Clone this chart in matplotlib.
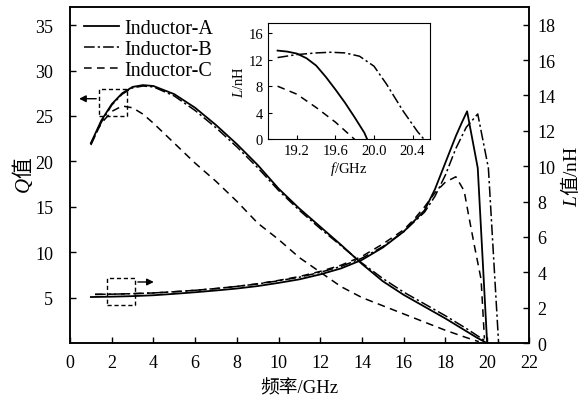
import numpy as np
import matplotlib
matplotlib.use("Agg")
import matplotlib.pyplot as plt
from matplotlib.patches import Rectangle

plt.rcParams['font.family'] = ['Liberation Serif', 'Noto Sans CJK SC']
plt.rcParams['mathtext.fontset'] = 'custom'
plt.rcParams['mathtext.it'] = 'Liberation Serif:italic'
plt.rcParams['mathtext.rm'] = 'Noto Sans CJK SC'

# Q values (left axis)
freq_qa = [1.0, 1.5, 2.0, 2.5, 3.0, 3.5, 4.0, 5, 6, 7, 8, 9, 10, 11, 12, 13, 14, 15, 16, 17, 18, 19, 19.5, 19.9]
q_a = [22.0, 24.5, 26.3, 27.5, 28.2, 28.4, 28.3, 27.4, 25.9, 24.0, 21.9, 19.6, 17.0, 14.8, 12.8, 10.8, 8.7, 6.8, 5.3, 4.0, 2.7, 1.3, 0.6, 0.1]
freq_qb = [1.0, 1.5, 2.0, 2.5, 3.0, 3.5, 4.0, 5, 6, 7, 8, 9, 10, 11, 12, 13, 14, 15, 16, 17, 18, 19, 19.6, 20.0]
q_b = [21.8, 24.3, 26.2, 27.4, 28.1, 28.3, 28.2, 27.2, 25.6, 23.7, 21.6, 19.3, 16.8, 14.6, 12.6, 10.7, 8.8, 7.1, 5.6, 4.3, 3.0, 1.6, 0.7, 0.1]
freq_qc = [1.0, 1.5, 2.0, 2.5, 3.0, 3.5, 4.0, 5, 6, 7, 8, 9, 10, 11, 12, 13, 14, 15, 16, 17, 18, 19, 19.6]
q_c = [22.0, 24.2, 25.5, 26.1, 25.9, 25.2, 24.2, 22.0, 19.8, 17.8, 15.6, 13.2, 11.4, 9.4, 7.8, 6.2, 5.0, 4.1, 3.2, 2.3, 1.4, 0.6, 0.15]

# L values (right axis, nH)
freq_la = [1.0, 2, 3, 4, 5, 6, 7, 8, 9, 10, 11, 12, 13, 14, 15, 16, 17, 17.5, 18, 18.5, 18.8, 19.04, 19.55, 20.0]
l_a = [2.6, 2.62, 2.65, 2.7, 2.78, 2.87, 2.97, 3.08, 3.22, 3.4, 3.6, 3.88, 4.22, 4.7, 5.4, 6.3, 7.5, 8.7, 10.2, 11.7, 12.5, 13.1, 9.9, 0.0]
freq_lb = [1.2, 2, 3, 4, 5, 6, 7, 8, 9, 10, 11, 12, 13, 14, 15, 16, 17, 17.5, 18, 18.5, 19.0, 19.55, 20.06, 20.55]
l_b = [2.75, 2.76, 2.79, 2.83, 2.9, 2.98, 3.08, 3.2, 3.34, 3.52, 3.72, 4.0, 4.33, 4.8, 5.45, 6.3, 7.4, 8.3, 9.5, 11.0, 12.2, 12.95, 9.9, 0.0]
freq_lc = [1.2, 2, 3, 4, 5, 6, 7, 8, 9, 10, 11, 12, 13, 14, 15, 16, 16.5, 17, 17.5, 18.0, 18.5, 18.9, 19.1, 19.39, 19.71, 19.87]
l_c = [2.75, 2.76, 2.79, 2.83, 2.9, 2.98, 3.08, 3.2, 3.35, 3.54, 3.76, 4.05, 4.4, 4.9, 5.6, 6.4, 7.0, 7.7, 8.5, 9.1, 9.4, 8.6, 7.3, 5.5, 3.6, 0.25]

# inset zoom near self-resonance
fz_a = [19.0, 19.1, 19.2, 19.3, 19.4, 19.5, 19.6, 19.7, 19.8, 19.9, 19.93]
lz_a = [13.35, 13.2, 12.9, 12.2, 11.1, 9.4, 7.5, 5.5, 3.3, 1.0, 0.0]
fz_b = [19.0, 19.2, 19.4, 19.55, 19.7, 19.85, 20.0, 20.13, 20.3, 20.45, 20.52]
lz_b = [12.3, 12.75, 13.0, 13.1, 13.0, 12.5, 11.0, 8.3, 4.3, 1.2, 0.0]
fz_c = [19.0, 19.2, 19.4, 19.6, 19.8]
lz_c = [8.0, 6.8, 4.8, 2.6, 0.0]

styles = {
    'A': dict(color='black', lw=1.3, ls='-'),
    'B': dict(color='black', lw=1.1, ls=(0, (7, 2, 1.5, 2))),
    'C': dict(color='black', lw=1.1, ls=(0, (5, 3.5))),
}

fig = plt.figure(figsize=(5.85, 4.06), dpi=100)
ax = fig.add_axes([0.1197, 0.1527, 0.7843, 0.8276])
ax2 = ax.twinx()

ax.plot(freq_qa, q_a, label='Inductor-A', **styles['A'])
ax.plot(freq_qb, q_b, label='Inductor-B', **styles['B'])
ax.plot(freq_qc, q_c, label='Inductor-C', **styles['C'])
ax2.plot(freq_la, l_a, **styles['A'])
ax2.plot(freq_lb, l_b, **styles['B'])
ax2.plot(freq_lc, l_c, **styles['C'])

ax.set_xlim(0, 22)
ax.set_ylim(0, 37)
ax2.set_ylim(0, 19)
ax.set_xticks(range(0, 23, 2))
ax.set_yticks(range(5, 36, 5))
ax2.set_yticks(range(0, 19, 2))
for a in (ax, ax2):
    a.tick_params(direction='in', length=4.5, width=1, labelsize=13)
    for s in a.spines.values():
        s.set_linewidth(1.1)
ax.tick_params(axis='x', pad=8)
ax.tick_params(axis='y', pad=12)
ax2.tick_params(axis='y', pad=6)
ax.set_xlabel('频率/GHz', fontsize=13.5, labelpad=6)
ax.set_ylabel(r'$Q\mathrm{值}$', fontsize=15, labelpad=0)
ax2.set_ylabel(r'$L\mathrm{值}$/nH', fontsize=14, labelpad=2)

# dashed boxes and arrows marking which axis each family belongs to
ax.add_patch(Rectangle((1.39, 25.0), 1.36, 3.0, fill=False, ls=(0, (3, 2)), lw=1, color='black'))
ax.annotate('', xy=(0.3, 26.9), xytext=(1.39, 26.9),
            arrowprops=dict(arrowstyle='-|>', color='black', lw=1, mutation_scale=10))
ax2.add_patch(Rectangle((1.79, 2.15), 1.33, 1.55, fill=False, ls=(0, (3, 2)), lw=1, color='black'))
ax2.annotate('', xy=(4.15, 3.45), xytext=(3.12, 3.45),
             arrowprops=dict(arrowstyle='-|>', color='black', lw=1, mutation_scale=10))

ax.legend(loc='upper left', bbox_to_anchor=(0.005, 1.0), frameon=False, fontsize=14.5,
          handlelength=1.7, handletextpad=0.3, labelspacing=0.1, borderaxespad=0.2)

ins = fig.add_axes([0.458, 0.654, 0.277, 0.287])
ins.plot(fz_a, lz_a, **styles['A'])
ins.plot(fz_b, lz_b, **styles['B'])
ins.plot(fz_c, lz_c, **styles['C'])
ins.set_xlim(18.9, 20.58)
ins.set_ylim(0, 17.5)
ins.set_xticks([19.2, 19.6, 20.0, 20.4])
ins.set_xticklabels(['19.2', '19.6', '20.0', '20.4'])
ins.set_yticks([0, 4, 8, 12, 16])
ins.tick_params(direction='in', length=3, labelsize=10.5)
ins.set_xlabel('$f$/GHz', fontsize=10.5, labelpad=1)
ins.set_ylabel('$L$/nH', fontsize=10.5, labelpad=2)

fig.savefig('out.png', dpi=100)
